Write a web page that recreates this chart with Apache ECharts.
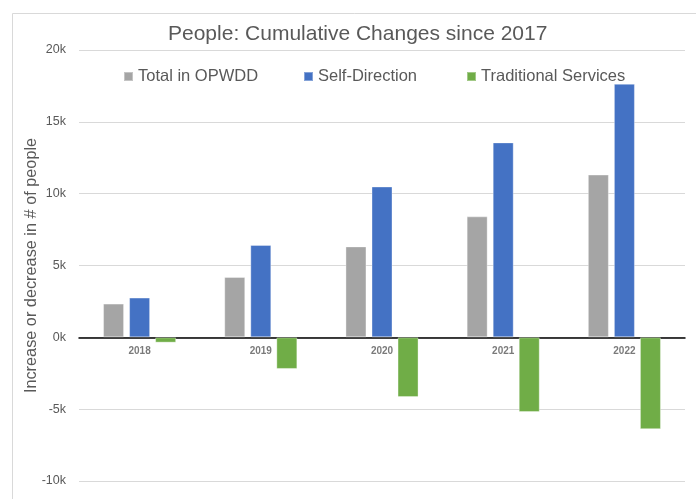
<!DOCTYPE html>
<html>
<head>
<meta charset="utf-8">
<script src="https://cdn.jsdelivr.net/npm/echarts@6/dist/echarts.min.js"></script>
<style>html,body{margin:0;padding:0;background:#fff}#c{width:696px;height:499px}</style>
</head>
<body>
<div id="c"></div>
<script>
const categories = ['2018', '2019', '2020', '2021', '2022'];
const totalOPWDD = [2350, 4200, 6330, 8420, 11330];
const selfDirection = [2770, 6430, 10500, 13570, 17650];
const traditional = [-370, -2200, -4160, -5200, -6390];
const yTicks = { min: -10000, max: 20000, interval: 5000 };
const seriesNames = ['Total in OPWDD', 'Self-Direction', 'Traditional Services'];

const chart = echarts.init(document.getElementById('c'), null, { renderer: 'canvas' });
const font = 'Liberation Sans';
const txt = '#595959';
function bar(name, data, color) {
  return {
    name, type: 'bar', data, barWidth: 21, barGap: '24%',
    itemStyle: { color, borderColor: 'rgba(255,255,255,0.35)', borderWidth: 1 }
  };
}
function legendAt(left, name) {
  return {
    top: 68, left, itemWidth: 9, itemHeight: 9, icon: 'rect', padding: 0,
    textStyle: { fontFamily: font, fontSize: 16.5, color: txt, padding: [0, 0, 0, 0] },
    data: [name]
  };
}
chart.setOption({
  animation: false,
  backgroundColor: '#fff',
  graphic: [{
    type: 'rect', shape: { x: 12.5, y: 13.5, width: 720, height: 520 },
    style: { fill: 'none', stroke: '#d9d9d9', lineWidth: 1 }, z: -10
  }],
  title: {
    text: 'People: Cumulative Changes since 2017',
    left: 163, top: 19,
    textStyle: { fontFamily: font, fontSize: 21, fontWeight: 'normal', color: txt }
  },
  legend: [legendAt(123, seriesNames[0]), legendAt(303, seriesNames[1]), legendAt(466, seriesNames[2])],
  grid: { left: 79, right: 11, top: 50, bottom: 18, containLabel: false },
  xAxis: {
    type: 'category', data: categories,
    axisLine: { onZero: true, lineStyle: { color: '#000', width: 1.5 } },
    axisTick: { show: false },
    axisLabel: { show: false }
  },
  yAxis: {
    type: 'value', min: yTicks.min, max: yTicks.max, interval: yTicks.interval,
    name: 'Increase or decrease in # of people', nameLocation: 'middle', nameGap: 39,
    nameMoveOverlap: false,
    nameTextStyle: { fontFamily: font, fontSize: 16.3, color: txt },
    axisLine: { show: false }, axisTick: { show: false },
    axisLabel: { fontFamily: font, fontSize: 12.5, color: txt, margin: 13,
      formatter: v => (v / 1000) + 'k' },
    splitLine: { lineStyle: { color: '#d9d9d9', width: 1 } }
  },
  series: [
    bar(seriesNames[0], totalOPWDD, '#a5a5a5'),
    bar(seriesNames[1], selfDirection, '#4472c4'),
    bar(seriesNames[2], traditional, '#70ad47'),
    {
      name: 'categoryLabels', type: 'scatter', silent: true, symbolSize: 0,
      data: categories.map(c => [c, 0]),
      label: {
        show: true, position: 'bottom', distance: 9,
        formatter: p => categories[p.dataIndex],
        fontFamily: font, fontSize: 10, fontWeight: 'bold', color: txt
      },
      z: 1
    }
  ]
});
</script>
</body>
</html>
